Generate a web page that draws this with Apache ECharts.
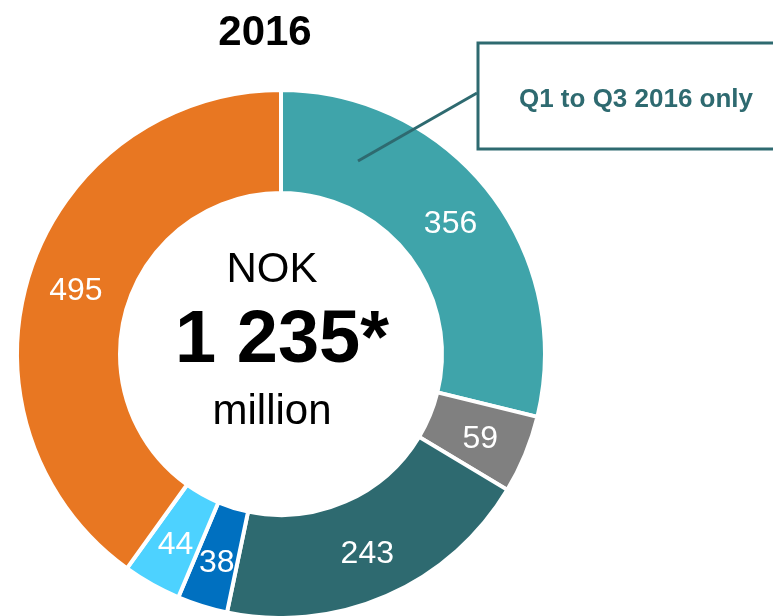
<!DOCTYPE html>
<html>
<head>
<meta charset="utf-8">
<script src="https://cdn.jsdelivr.net/npm/echarts@6/dist/echarts.min.js"></script>
<style>
  html, body { margin: 0; padding: 0; background: #fff; }
  #chart { width: 773px; height: 616px; }
</style>
</head>
<body>
<div id="chart"></div>
<script>
// segments of the 2016 total, clockwise from 12 o'clock
const segments = ['Seg 1', 'Seg 2', 'Seg 3', 'Seg 4', 'Seg 5', 'Seg 6'];
const values = [356, 59, 243, 38, 44, 495];
const palette = ['#3FA4AA', '#808080', '#2E6A70', '#0070C0', '#4DD2FF', '#E87722'];

const titleText = '2016';
const centerLines = ['NOK', '1 235*', 'million'];
const noteText = 'Q1 to Q3 2016 only';

const FONT = '"Liberation Sans", Arial, sans-serif';
const myChart = echarts.init(document.getElementById('chart'));

const pieData = values.map((v, i) => ({
  name: segments[i], value: v, itemStyle: { color: palette[i] }
}));

const option = {
  backgroundColor: '#fff',
  animation: false,
  series: [{
    type: 'pie',
    center: [281, 354],
    radius: [161, 264],
    startAngle: 90,
    clockwise: true,
    avoidLabelOverlap: false,
    itemStyle: { borderColor: '#fff', borderWidth: 4 },
    label: {
      show: true,
      position: 'inside',
      formatter: '{c}',
      color: '#fff',
      fontFamily: FONT,
      fontSize: 32,
      offset: [0, 3]
    },
    labelLine: { show: false },
    emphasis: { disabled: true },
    data: pieData
  }],
  graphic: [
    {
      type: 'text', z: 100,
      style: { text: titleText, x: 265, y: 33, textAlign: 'center', textVerticalAlign: 'middle',
        font: 'bold 42px ' + FONT, fill: '#000' }
    },
    {
      type: 'text', z: 100,
      style: { text: centerLines[0], x: 272, y: 270, textAlign: 'center', textVerticalAlign: 'middle',
        font: '42px ' + FONT, fill: '#000' }
    },
    {
      type: 'text', z: 100,
      style: { text: centerLines[1], x: 282, y: 342, textAlign: 'center', textVerticalAlign: 'middle',
        font: 'bold 74px ' + FONT, fill: '#000' }
    },
    {
      type: 'text', z: 100,
      style: { text: centerLines[2], x: 272, y: 412, textAlign: 'center', textVerticalAlign: 'middle',
        font: '42px ' + FONT, fill: '#000' }
    },
    {
      type: 'line', z: 100,
      shape: { x1: 358, y1: 161, x2: 477, y2: 93 },
      style: { stroke: '#2E6A70', lineWidth: 3 }
    },
    {
      type: 'rect', z: 100,
      shape: { x: 478, y: 43, width: 320, height: 106 },
      style: { fill: '#fff', stroke: '#2E6A70', lineWidth: 3 }
    },
    {
      type: 'text', z: 101,
      style: { text: noteText, x: 636, y: 100, textAlign: 'center', textVerticalAlign: 'middle',
        font: 'bold 26px ' + FONT, fill: '#2E6A70' }
    }
  ]
};

myChart.setOption(option);
</script>
</body>
</html>
